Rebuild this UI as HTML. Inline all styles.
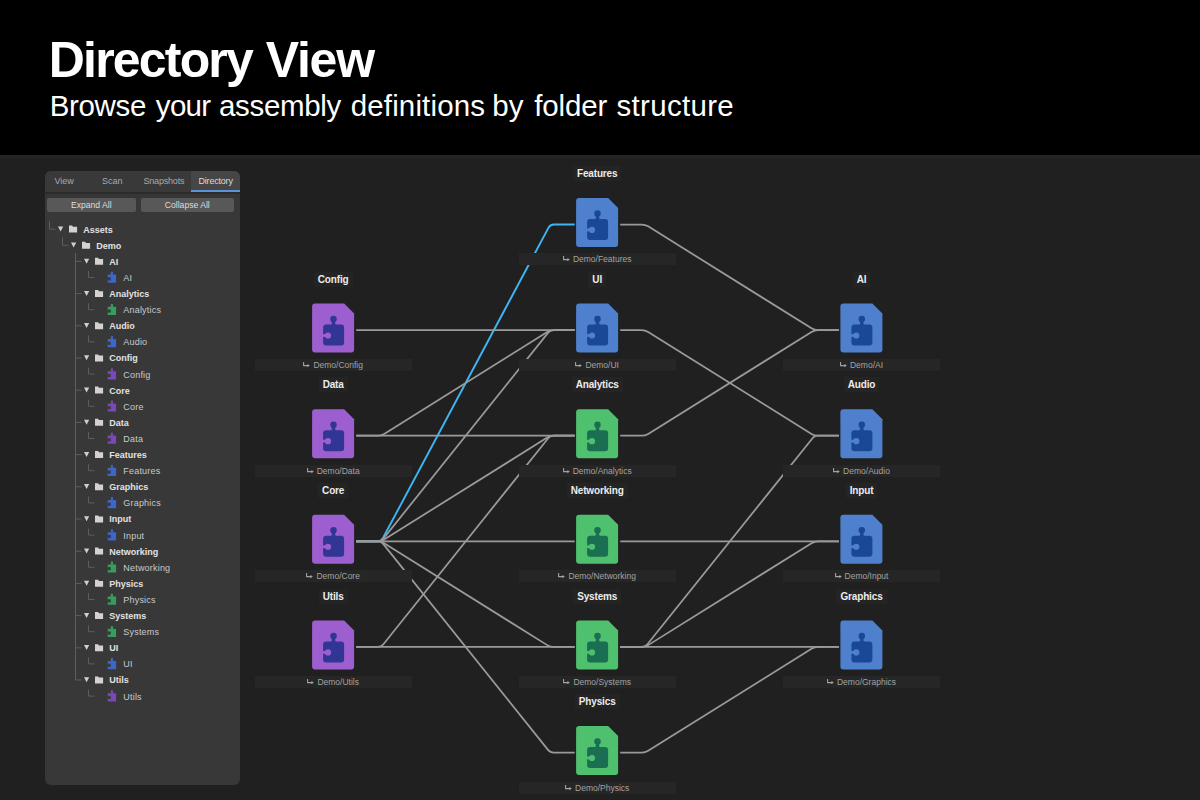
<!DOCTYPE html>
<html><head><meta charset="utf-8"><style>
*{margin:0;padding:0;box-sizing:border-box}
html,body{width:1200px;height:800px;overflow:hidden;background:#202020;font-family:"Liberation Sans", sans-serif}
.abs{position:absolute}
#hdr{position:absolute;left:0;top:0;width:1200px;height:155px;background:#000}
#title{position:absolute;left:0;top:35px;font-size:50px;font-weight:700;color:#fff;white-space:nowrap;line-height:1}
#title span,#sub span{position:absolute;top:0}
#sub{position:absolute;left:0;top:91px;font-size:29.5px;color:#fff;white-space:nowrap;line-height:1}
#panel{position:absolute;left:45px;top:171px;width:195.2px;height:613.5px;background:#383838;border-radius:6px;overflow:hidden}
.tab{position:absolute;top:0;height:21px;font-size:9px;color:#a9a9a9;line-height:21px;white-space:nowrap}
.btn{position:absolute;top:27px;height:13.5px;background:#585858;border-radius:2px;color:#dedede;font-size:8.6px;line-height:15.6px;text-align:center}
.tl{position:absolute;font-size:9px;white-space:nowrap;line-height:1}
.ttl{position:absolute;font-size:10px;font-weight:700;color:#ececec;white-space:nowrap;line-height:1}
.pth{position:absolute;font-size:8.5px;color:#a3a3a3;white-space:nowrap;line-height:12px;height:12px;background:#262626;text-align:center}
</style></head><body>
<div id="hdr"></div>
<div class="abs" style="left:0;top:155px;width:1200px;height:5px;background:linear-gradient(#272727,#202020)"></div>
<div id="title"><span style="left:48.75px;letter-spacing:-1.806px">Directory</span><span style="left:265.8px;letter-spacing:-1.267px">View</span></div>
<div id="sub"><span style="left:49.7px;letter-spacing:-0.34px">Browse</span><span style="left:155.8px;letter-spacing:-0.667px">your</span><span style="left:219px;letter-spacing:-0.329px">assembly</span><span style="left:350.7px;letter-spacing:0.15px">definitions</span><span style="left:492.2px;letter-spacing:0.1px">by</span><span style="left:534.2px;letter-spacing:-0.14px">folder</span><span style="left:616.5px;letter-spacing:0.312px">structure</span></div>

<svg class="abs" style="left:0;top:0" width="1200" height="800" viewBox="0 0 1200 800">
<path d="M356.20,541.36 L377.70,541.36 Q381.20,541.36 382.85,538.27 L548.55,227.59 Q550.20,224.50 553.70,224.50 L574.70,224.50" fill="none" stroke="#3cb6f5" stroke-width="1.9" stroke-linejoin="round"/>
<g fill="none" stroke="#9a9a9a" stroke-width="1.75" stroke-linejoin="round">
<path d="M356.20,330.12 L574.70,330.12"/>
<path d="M356.20,435.74 L377.70,435.74 Q381.20,435.74 384.17,433.89 L547.23,331.97 Q550.20,330.12 553.70,330.12 L574.70,330.12"/>
<path d="M356.20,435.74 L574.70,435.74"/>
<path d="M356.20,541.36 L377.70,541.36 Q381.20,541.36 383.39,538.63 L548.01,332.85 Q550.20,330.12 553.70,330.12 L574.70,330.12"/>
<path d="M356.20,541.36 L377.70,541.36 Q381.20,541.36 384.17,539.51 L547.23,437.59 Q550.20,435.74 553.70,435.74 L574.70,435.74"/>
<path d="M356.20,541.36 L574.70,541.36"/>
<path d="M356.20,541.36 L377.70,541.36 Q381.20,541.36 384.17,543.21 L547.23,645.13 Q550.20,646.98 553.70,646.98 L574.70,646.98"/>
<path d="M356.20,541.36 L377.70,541.36 Q381.20,541.36 383.39,544.09 L548.01,749.87 Q550.20,752.60 553.70,752.60 L574.70,752.60"/>
<path d="M356.20,646.98 L377.70,646.98 Q381.20,646.98 383.39,644.25 L548.01,438.47 Q550.20,435.74 553.70,435.74 L574.70,435.74"/>
<path d="M356.20,646.98 L574.70,646.98"/>
<path d="M620.20,224.50 L641.70,224.50 Q645.20,224.50 648.17,226.35 L811.53,328.27 Q814.50,330.12 818.00,330.12 L839.00,330.12"/>
<path d="M620.20,330.12 L641.70,330.12 Q645.20,330.12 648.17,331.97 L811.53,433.89 Q814.50,435.74 818.00,435.74 L839.00,435.74"/>
<path d="M620.20,435.74 L641.70,435.74 Q645.20,435.74 648.17,433.89 L811.53,331.97 Q814.50,330.12 818.00,330.12 L839.00,330.12"/>
<path d="M620.20,541.36 L839.00,541.36"/>
<path d="M620.20,646.98 L641.70,646.98 Q645.20,646.98 647.39,644.25 L812.31,438.47 Q814.50,435.74 818.00,435.74 L839.00,435.74"/>
<path d="M620.20,646.98 L641.70,646.98 Q645.20,646.98 648.17,645.13 L811.53,543.21 Q814.50,541.36 818.00,541.36 L839.00,541.36"/>
<path d="M620.20,646.98 L839.00,646.98"/>
<path d="M620.20,752.60 L641.70,752.60 Q645.20,752.60 648.17,750.75 L811.53,648.83 Q814.50,646.98 818.00,646.98 L839.00,646.98"/>
</g>
</svg>
<div class="pth" style="left:518.7px;top:253.4px;width:157px"><svg width="7" height="6" viewBox="0 0 7 6" style="display:inline-block;vertical-align:0px;margin-right:3px"><path d="M0.6,0 V3.6 H5.2" fill="none" stroke="#a3a3a3" stroke-width="1.1"/><path d="M4.4,1.9 L6.8,3.6 L4.4,5.3 Z" fill="#a3a3a3"/></svg>Demo/Features</div>
<div class="ttl" style="left:537.2px;width:120px;text-align:center;top:169.2px"><span style="background:#242424;padding:2px 4px;letter-spacing:-0.15px">Features</span></div>
<div class="pth" style="left:518.7px;top:359.0px;width:157px"><svg width="7" height="6" viewBox="0 0 7 6" style="display:inline-block;vertical-align:0px;margin-right:3px"><path d="M0.6,0 V3.6 H5.2" fill="none" stroke="#a3a3a3" stroke-width="1.1"/><path d="M4.4,1.9 L6.8,3.6 L4.4,5.3 Z" fill="#a3a3a3"/></svg>Demo/UI</div>
<div class="ttl" style="left:537.2px;width:120px;text-align:center;top:274.8px"><span style="background:#242424;padding:2px 4px;letter-spacing:-0.15px">UI</span></div>
<div class="pth" style="left:518.7px;top:464.6px;width:157px"><svg width="7" height="6" viewBox="0 0 7 6" style="display:inline-block;vertical-align:0px;margin-right:3px"><path d="M0.6,0 V3.6 H5.2" fill="none" stroke="#a3a3a3" stroke-width="1.1"/><path d="M4.4,1.9 L6.8,3.6 L4.4,5.3 Z" fill="#a3a3a3"/></svg>Demo/Analytics</div>
<div class="ttl" style="left:537.2px;width:120px;text-align:center;top:380.4px"><span style="background:#242424;padding:2px 4px;letter-spacing:-0.15px">Analytics</span></div>
<div class="pth" style="left:518.7px;top:570.3px;width:157px"><svg width="7" height="6" viewBox="0 0 7 6" style="display:inline-block;vertical-align:0px;margin-right:3px"><path d="M0.6,0 V3.6 H5.2" fill="none" stroke="#a3a3a3" stroke-width="1.1"/><path d="M4.4,1.9 L6.8,3.6 L4.4,5.3 Z" fill="#a3a3a3"/></svg>Demo/Networking</div>
<div class="ttl" style="left:537.2px;width:120px;text-align:center;top:486.1px"><span style="background:#242424;padding:2px 4px;letter-spacing:-0.15px">Networking</span></div>
<div class="pth" style="left:518.7px;top:675.9px;width:157px"><svg width="7" height="6" viewBox="0 0 7 6" style="display:inline-block;vertical-align:0px;margin-right:3px"><path d="M0.6,0 V3.6 H5.2" fill="none" stroke="#a3a3a3" stroke-width="1.1"/><path d="M4.4,1.9 L6.8,3.6 L4.4,5.3 Z" fill="#a3a3a3"/></svg>Demo/Systems</div>
<div class="ttl" style="left:537.2px;width:120px;text-align:center;top:591.7px"><span style="background:#242424;padding:2px 4px;letter-spacing:-0.15px">Systems</span></div>
<div class="pth" style="left:518.7px;top:781.5px;width:157px"><svg width="7" height="6" viewBox="0 0 7 6" style="display:inline-block;vertical-align:0px;margin-right:3px"><path d="M0.6,0 V3.6 H5.2" fill="none" stroke="#a3a3a3" stroke-width="1.1"/><path d="M4.4,1.9 L6.8,3.6 L4.4,5.3 Z" fill="#a3a3a3"/></svg>Demo/Physics</div>
<div class="ttl" style="left:537.2px;width:120px;text-align:center;top:697.3px"><span style="background:#242424;padding:2px 4px;letter-spacing:-0.15px">Physics</span></div>
<div class="pth" style="left:254.7px;top:359.0px;width:157px"><svg width="7" height="6" viewBox="0 0 7 6" style="display:inline-block;vertical-align:0px;margin-right:3px"><path d="M0.6,0 V3.6 H5.2" fill="none" stroke="#a3a3a3" stroke-width="1.1"/><path d="M4.4,1.9 L6.8,3.6 L4.4,5.3 Z" fill="#a3a3a3"/></svg>Demo/Config</div>
<div class="ttl" style="left:273.2px;width:120px;text-align:center;top:274.8px"><span style="background:#242424;padding:2px 4px;letter-spacing:-0.15px">Config</span></div>
<div class="pth" style="left:254.7px;top:464.6px;width:157px"><svg width="7" height="6" viewBox="0 0 7 6" style="display:inline-block;vertical-align:0px;margin-right:3px"><path d="M0.6,0 V3.6 H5.2" fill="none" stroke="#a3a3a3" stroke-width="1.1"/><path d="M4.4,1.9 L6.8,3.6 L4.4,5.3 Z" fill="#a3a3a3"/></svg>Demo/Data</div>
<div class="ttl" style="left:273.2px;width:120px;text-align:center;top:380.4px"><span style="background:#242424;padding:2px 4px;letter-spacing:-0.15px">Data</span></div>
<div class="pth" style="left:254.7px;top:570.3px;width:157px"><svg width="7" height="6" viewBox="0 0 7 6" style="display:inline-block;vertical-align:0px;margin-right:3px"><path d="M0.6,0 V3.6 H5.2" fill="none" stroke="#a3a3a3" stroke-width="1.1"/><path d="M4.4,1.9 L6.8,3.6 L4.4,5.3 Z" fill="#a3a3a3"/></svg>Demo/Core</div>
<div class="ttl" style="left:273.2px;width:120px;text-align:center;top:486.1px"><span style="background:#242424;padding:2px 4px;letter-spacing:-0.15px">Core</span></div>
<div class="pth" style="left:254.7px;top:675.9px;width:157px"><svg width="7" height="6" viewBox="0 0 7 6" style="display:inline-block;vertical-align:0px;margin-right:3px"><path d="M0.6,0 V3.6 H5.2" fill="none" stroke="#a3a3a3" stroke-width="1.1"/><path d="M4.4,1.9 L6.8,3.6 L4.4,5.3 Z" fill="#a3a3a3"/></svg>Demo/Utils</div>
<div class="ttl" style="left:273.2px;width:120px;text-align:center;top:591.7px"><span style="background:#242424;padding:2px 4px;letter-spacing:-0.15px">Utils</span></div>
<div class="pth" style="left:783.0px;top:359.0px;width:157px"><svg width="7" height="6" viewBox="0 0 7 6" style="display:inline-block;vertical-align:0px;margin-right:3px"><path d="M0.6,0 V3.6 H5.2" fill="none" stroke="#a3a3a3" stroke-width="1.1"/><path d="M4.4,1.9 L6.8,3.6 L4.4,5.3 Z" fill="#a3a3a3"/></svg>Demo/AI</div>
<div class="ttl" style="left:801.5px;width:120px;text-align:center;top:274.8px"><span style="background:#242424;padding:2px 4px;letter-spacing:-0.15px">AI</span></div>
<div class="pth" style="left:783.0px;top:464.6px;width:157px"><svg width="7" height="6" viewBox="0 0 7 6" style="display:inline-block;vertical-align:0px;margin-right:3px"><path d="M0.6,0 V3.6 H5.2" fill="none" stroke="#a3a3a3" stroke-width="1.1"/><path d="M4.4,1.9 L6.8,3.6 L4.4,5.3 Z" fill="#a3a3a3"/></svg>Demo/Audio</div>
<div class="ttl" style="left:801.5px;width:120px;text-align:center;top:380.4px"><span style="background:#242424;padding:2px 4px;letter-spacing:-0.15px">Audio</span></div>
<div class="pth" style="left:783.0px;top:570.3px;width:157px"><svg width="7" height="6" viewBox="0 0 7 6" style="display:inline-block;vertical-align:0px;margin-right:3px"><path d="M0.6,0 V3.6 H5.2" fill="none" stroke="#a3a3a3" stroke-width="1.1"/><path d="M4.4,1.9 L6.8,3.6 L4.4,5.3 Z" fill="#a3a3a3"/></svg>Demo/Input</div>
<div class="ttl" style="left:801.5px;width:120px;text-align:center;top:486.1px"><span style="background:#242424;padding:2px 4px;letter-spacing:-0.15px">Input</span></div>
<div class="pth" style="left:783.0px;top:675.9px;width:157px"><svg width="7" height="6" viewBox="0 0 7 6" style="display:inline-block;vertical-align:0px;margin-right:3px"><path d="M0.6,0 V3.6 H5.2" fill="none" stroke="#a3a3a3" stroke-width="1.1"/><path d="M4.4,1.9 L6.8,3.6 L4.4,5.3 Z" fill="#a3a3a3"/></svg>Demo/Graphics</div>
<div class="ttl" style="left:801.5px;width:120px;text-align:center;top:591.7px"><span style="background:#242424;padding:2px 4px;letter-spacing:-0.15px">Graphics</span></div>
<svg class="abs" style="left:0;top:0" width="1200" height="800" viewBox="0 0 1200 800">
<g transform="translate(576.10,198.00)"><path d="M3,0 H32 L42,10 V46 Q42,49 39,49 H3 Q0,49 0,46 V3 Q0,0 3,0 Z" fill="#4f80cd"/><rect x="11" y="21" width="21" height="21" rx="3" fill="#1a4897"/><circle cx="21.4" cy="15.5" r="3.25" fill="#1a4897"/><path d="M19.7,17 h3.4 v3 l0.6,1.5 h-4.6 l0.6,-1.5 z" fill="#1a4897"/><circle cx="15.9" cy="31.9" r="3.1" fill="#4f80cd"/><rect x="10" y="30.5" width="6" height="2.8" fill="#4f80cd"/></g>
<g transform="translate(576.10,303.62)"><path d="M3,0 H32 L42,10 V46 Q42,49 39,49 H3 Q0,49 0,46 V3 Q0,0 3,0 Z" fill="#4f80cd"/><rect x="11" y="21" width="21" height="21" rx="3" fill="#1a4897"/><circle cx="21.4" cy="15.5" r="3.25" fill="#1a4897"/><path d="M19.7,17 h3.4 v3 l0.6,1.5 h-4.6 l0.6,-1.5 z" fill="#1a4897"/><circle cx="15.9" cy="31.9" r="3.1" fill="#4f80cd"/><rect x="10" y="30.5" width="6" height="2.8" fill="#4f80cd"/></g>
<g transform="translate(576.10,409.24)"><path d="M3,0 H32 L42,10 V46 Q42,49 39,49 H3 Q0,49 0,46 V3 Q0,0 3,0 Z" fill="#4fc06e"/><rect x="11" y="21" width="21" height="21" rx="3" fill="#1a6e52"/><circle cx="21.4" cy="15.5" r="3.25" fill="#1a6e52"/><path d="M19.7,17 h3.4 v3 l0.6,1.5 h-4.6 l0.6,-1.5 z" fill="#1a6e52"/><circle cx="15.9" cy="31.9" r="3.1" fill="#4fc06e"/><rect x="10" y="30.5" width="6" height="2.8" fill="#4fc06e"/></g>
<g transform="translate(576.10,514.86)"><path d="M3,0 H32 L42,10 V46 Q42,49 39,49 H3 Q0,49 0,46 V3 Q0,0 3,0 Z" fill="#4fc06e"/><rect x="11" y="21" width="21" height="21" rx="3" fill="#1a6e52"/><circle cx="21.4" cy="15.5" r="3.25" fill="#1a6e52"/><path d="M19.7,17 h3.4 v3 l0.6,1.5 h-4.6 l0.6,-1.5 z" fill="#1a6e52"/><circle cx="15.9" cy="31.9" r="3.1" fill="#4fc06e"/><rect x="10" y="30.5" width="6" height="2.8" fill="#4fc06e"/></g>
<g transform="translate(576.10,620.48)"><path d="M3,0 H32 L42,10 V46 Q42,49 39,49 H3 Q0,49 0,46 V3 Q0,0 3,0 Z" fill="#4fc06e"/><rect x="11" y="21" width="21" height="21" rx="3" fill="#1a6e52"/><circle cx="21.4" cy="15.5" r="3.25" fill="#1a6e52"/><path d="M19.7,17 h3.4 v3 l0.6,1.5 h-4.6 l0.6,-1.5 z" fill="#1a6e52"/><circle cx="15.9" cy="31.9" r="3.1" fill="#4fc06e"/><rect x="10" y="30.5" width="6" height="2.8" fill="#4fc06e"/></g>
<g transform="translate(576.10,726.10)"><path d="M3,0 H32 L42,10 V46 Q42,49 39,49 H3 Q0,49 0,46 V3 Q0,0 3,0 Z" fill="#4fc06e"/><rect x="11" y="21" width="21" height="21" rx="3" fill="#1a6e52"/><circle cx="21.4" cy="15.5" r="3.25" fill="#1a6e52"/><path d="M19.7,17 h3.4 v3 l0.6,1.5 h-4.6 l0.6,-1.5 z" fill="#1a6e52"/><circle cx="15.9" cy="31.9" r="3.1" fill="#4fc06e"/><rect x="10" y="30.5" width="6" height="2.8" fill="#4fc06e"/></g>
<g transform="translate(312.10,303.62)"><path d="M3,0 H32 L42,10 V46 Q42,49 39,49 H3 Q0,49 0,46 V3 Q0,0 3,0 Z" fill="#9d5fcf"/><rect x="11" y="21" width="21" height="21" rx="3" fill="#313593"/><circle cx="21.4" cy="15.5" r="3.25" fill="#313593"/><path d="M19.7,17 h3.4 v3 l0.6,1.5 h-4.6 l0.6,-1.5 z" fill="#313593"/><circle cx="15.9" cy="31.9" r="3.1" fill="#9d5fcf"/><rect x="10" y="30.5" width="6" height="2.8" fill="#9d5fcf"/></g>
<g transform="translate(312.10,409.24)"><path d="M3,0 H32 L42,10 V46 Q42,49 39,49 H3 Q0,49 0,46 V3 Q0,0 3,0 Z" fill="#9d5fcf"/><rect x="11" y="21" width="21" height="21" rx="3" fill="#313593"/><circle cx="21.4" cy="15.5" r="3.25" fill="#313593"/><path d="M19.7,17 h3.4 v3 l0.6,1.5 h-4.6 l0.6,-1.5 z" fill="#313593"/><circle cx="15.9" cy="31.9" r="3.1" fill="#9d5fcf"/><rect x="10" y="30.5" width="6" height="2.8" fill="#9d5fcf"/></g>
<g transform="translate(312.10,514.86)"><path d="M3,0 H32 L42,10 V46 Q42,49 39,49 H3 Q0,49 0,46 V3 Q0,0 3,0 Z" fill="#9d5fcf"/><rect x="11" y="21" width="21" height="21" rx="3" fill="#313593"/><circle cx="21.4" cy="15.5" r="3.25" fill="#313593"/><path d="M19.7,17 h3.4 v3 l0.6,1.5 h-4.6 l0.6,-1.5 z" fill="#313593"/><circle cx="15.9" cy="31.9" r="3.1" fill="#9d5fcf"/><rect x="10" y="30.5" width="6" height="2.8" fill="#9d5fcf"/></g>
<g transform="translate(312.10,620.48)"><path d="M3,0 H32 L42,10 V46 Q42,49 39,49 H3 Q0,49 0,46 V3 Q0,0 3,0 Z" fill="#9d5fcf"/><rect x="11" y="21" width="21" height="21" rx="3" fill="#313593"/><circle cx="21.4" cy="15.5" r="3.25" fill="#313593"/><path d="M19.7,17 h3.4 v3 l0.6,1.5 h-4.6 l0.6,-1.5 z" fill="#313593"/><circle cx="15.9" cy="31.9" r="3.1" fill="#9d5fcf"/><rect x="10" y="30.5" width="6" height="2.8" fill="#9d5fcf"/></g>
<g transform="translate(840.40,303.62)"><path d="M3,0 H32 L42,10 V46 Q42,49 39,49 H3 Q0,49 0,46 V3 Q0,0 3,0 Z" fill="#4f80cd"/><rect x="11" y="21" width="21" height="21" rx="3" fill="#1a4897"/><circle cx="21.4" cy="15.5" r="3.25" fill="#1a4897"/><path d="M19.7,17 h3.4 v3 l0.6,1.5 h-4.6 l0.6,-1.5 z" fill="#1a4897"/><circle cx="15.9" cy="31.9" r="3.1" fill="#4f80cd"/><rect x="10" y="30.5" width="6" height="2.8" fill="#4f80cd"/></g>
<g transform="translate(840.40,409.24)"><path d="M3,0 H32 L42,10 V46 Q42,49 39,49 H3 Q0,49 0,46 V3 Q0,0 3,0 Z" fill="#4f80cd"/><rect x="11" y="21" width="21" height="21" rx="3" fill="#1a4897"/><circle cx="21.4" cy="15.5" r="3.25" fill="#1a4897"/><path d="M19.7,17 h3.4 v3 l0.6,1.5 h-4.6 l0.6,-1.5 z" fill="#1a4897"/><circle cx="15.9" cy="31.9" r="3.1" fill="#4f80cd"/><rect x="10" y="30.5" width="6" height="2.8" fill="#4f80cd"/></g>
<g transform="translate(840.40,514.86)"><path d="M3,0 H32 L42,10 V46 Q42,49 39,49 H3 Q0,49 0,46 V3 Q0,0 3,0 Z" fill="#4f80cd"/><rect x="11" y="21" width="21" height="21" rx="3" fill="#1a4897"/><circle cx="21.4" cy="15.5" r="3.25" fill="#1a4897"/><path d="M19.7,17 h3.4 v3 l0.6,1.5 h-4.6 l0.6,-1.5 z" fill="#1a4897"/><circle cx="15.9" cy="31.9" r="3.1" fill="#4f80cd"/><rect x="10" y="30.5" width="6" height="2.8" fill="#4f80cd"/></g>
<g transform="translate(840.40,620.48)"><path d="M3,0 H32 L42,10 V46 Q42,49 39,49 H3 Q0,49 0,46 V3 Q0,0 3,0 Z" fill="#4f80cd"/><rect x="11" y="21" width="21" height="21" rx="3" fill="#1a4897"/><circle cx="21.4" cy="15.5" r="3.25" fill="#1a4897"/><path d="M19.7,17 h3.4 v3 l0.6,1.5 h-4.6 l0.6,-1.5 z" fill="#1a4897"/><circle cx="15.9" cy="31.9" r="3.1" fill="#4f80cd"/><rect x="10" y="30.5" width="6" height="2.8" fill="#4f80cd"/></g>
</svg>
<div id="panel">
<svg class="abs" style="left:0;top:0" width="196" height="613">
<path d="M4.5,50.2 V58.2 H10.5" fill="none" stroke="#5d5d5d" stroke-width="1"/>
<path d="M13.0,55.5 h5.2 l-2.6,5 z" fill="#cfcfcf"/>
<path d="M24.0,54.6 h3.1 l0.9,1.2 h4.1 v5.8 h-8.1 z" fill="#d2d2d2"/>
<path d="M17.5,66.3 V74.3 H23.5" fill="none" stroke="#5d5d5d" stroke-width="1"/>
<path d="M26.0,71.6 h5.2 l-2.6,5 z" fill="#cfcfcf"/>
<path d="M37.0,70.7 h3.1 l0.9,1.2 h4.1 v5.8 h-8.1 z" fill="#d2d2d2"/>
<path d="M30.5,89.9 V90.4 H36.5" fill="none" stroke="#5d5d5d" stroke-width="1"/>
<path d="M39.0,87.7 h5.2 l-2.6,5 z" fill="#cfcfcf"/>
<path d="M50.0,86.8 h3.1 l0.9,1.2 h4.1 v5.8 h-8.1 z" fill="#d2d2d2"/>
<path d="M43.5,100.0 V106.5 H49.5" fill="none" stroke="#5d5d5d" stroke-width="1"/>
<g transform="translate(62.70,106.50)"><rect x="0" y="-2.9" width="8.4" height="8.2" rx="0.6" fill="#3e66c6"/><rect x="3.2" y="-5.8" width="2.1" height="3.2" rx="0.5" fill="#3e66c6"/><rect x="-0.2" y="-0.2" width="3.2" height="3.1" fill="#383838"/></g>
<path d="M30.5,122.1 V122.6 H36.5" fill="none" stroke="#5d5d5d" stroke-width="1"/>
<path d="M39.0,119.9 h5.2 l-2.6,5 z" fill="#cfcfcf"/>
<path d="M50.0,119.0 h3.1 l0.9,1.2 h4.1 v5.8 h-8.1 z" fill="#d2d2d2"/>
<path d="M43.5,132.2 V138.7 H49.5" fill="none" stroke="#5d5d5d" stroke-width="1"/>
<g transform="translate(62.70,138.70)"><rect x="0" y="-2.9" width="8.4" height="8.2" rx="0.6" fill="#3a9c5c"/><rect x="3.2" y="-5.8" width="2.1" height="3.2" rx="0.5" fill="#3a9c5c"/><rect x="-0.2" y="-0.2" width="3.2" height="3.1" fill="#383838"/></g>
<path d="M30.5,154.3 V154.8 H36.5" fill="none" stroke="#5d5d5d" stroke-width="1"/>
<path d="M39.0,152.1 h5.2 l-2.6,5 z" fill="#cfcfcf"/>
<path d="M50.0,151.2 h3.1 l0.9,1.2 h4.1 v5.8 h-8.1 z" fill="#d2d2d2"/>
<path d="M43.5,164.4 V170.9 H49.5" fill="none" stroke="#5d5d5d" stroke-width="1"/>
<g transform="translate(62.70,170.90)"><rect x="0" y="-2.9" width="8.4" height="8.2" rx="0.6" fill="#3e66c6"/><rect x="3.2" y="-5.8" width="2.1" height="3.2" rx="0.5" fill="#3e66c6"/><rect x="-0.2" y="-0.2" width="3.2" height="3.1" fill="#383838"/></g>
<path d="M30.5,186.5 V187.0 H36.5" fill="none" stroke="#5d5d5d" stroke-width="1"/>
<path d="M39.0,184.3 h5.2 l-2.6,5 z" fill="#cfcfcf"/>
<path d="M50.0,183.4 h3.1 l0.9,1.2 h4.1 v5.8 h-8.1 z" fill="#d2d2d2"/>
<path d="M43.5,196.6 V203.1 H49.5" fill="none" stroke="#5d5d5d" stroke-width="1"/>
<g transform="translate(62.70,203.10)"><rect x="0" y="-2.9" width="8.4" height="8.2" rx="0.6" fill="#7a48b8"/><rect x="3.2" y="-5.8" width="2.1" height="3.2" rx="0.5" fill="#7a48b8"/><rect x="-0.2" y="-0.2" width="3.2" height="3.1" fill="#383838"/></g>
<path d="M30.5,218.7 V219.2 H36.5" fill="none" stroke="#5d5d5d" stroke-width="1"/>
<path d="M39.0,216.5 h5.2 l-2.6,5 z" fill="#cfcfcf"/>
<path d="M50.0,215.6 h3.1 l0.9,1.2 h4.1 v5.8 h-8.1 z" fill="#d2d2d2"/>
<path d="M43.5,228.8 V235.3 H49.5" fill="none" stroke="#5d5d5d" stroke-width="1"/>
<g transform="translate(62.70,235.30)"><rect x="0" y="-2.9" width="8.4" height="8.2" rx="0.6" fill="#7a48b8"/><rect x="3.2" y="-5.8" width="2.1" height="3.2" rx="0.5" fill="#7a48b8"/><rect x="-0.2" y="-0.2" width="3.2" height="3.1" fill="#383838"/></g>
<path d="M30.5,250.9 V251.4 H36.5" fill="none" stroke="#5d5d5d" stroke-width="1"/>
<path d="M39.0,248.7 h5.2 l-2.6,5 z" fill="#cfcfcf"/>
<path d="M50.0,247.8 h3.1 l0.9,1.2 h4.1 v5.8 h-8.1 z" fill="#d2d2d2"/>
<path d="M43.5,261.0 V267.5 H49.5" fill="none" stroke="#5d5d5d" stroke-width="1"/>
<g transform="translate(62.70,267.50)"><rect x="0" y="-2.9" width="8.4" height="8.2" rx="0.6" fill="#7a48b8"/><rect x="3.2" y="-5.8" width="2.1" height="3.2" rx="0.5" fill="#7a48b8"/><rect x="-0.2" y="-0.2" width="3.2" height="3.1" fill="#383838"/></g>
<path d="M30.5,283.1 V283.6 H36.5" fill="none" stroke="#5d5d5d" stroke-width="1"/>
<path d="M39.0,280.9 h5.2 l-2.6,5 z" fill="#cfcfcf"/>
<path d="M50.0,280.0 h3.1 l0.9,1.2 h4.1 v5.8 h-8.1 z" fill="#d2d2d2"/>
<path d="M43.5,293.2 V299.7 H49.5" fill="none" stroke="#5d5d5d" stroke-width="1"/>
<g transform="translate(62.70,299.70)"><rect x="0" y="-2.9" width="8.4" height="8.2" rx="0.6" fill="#3e66c6"/><rect x="3.2" y="-5.8" width="2.1" height="3.2" rx="0.5" fill="#3e66c6"/><rect x="-0.2" y="-0.2" width="3.2" height="3.1" fill="#383838"/></g>
<path d="M30.5,315.3 V315.8 H36.5" fill="none" stroke="#5d5d5d" stroke-width="1"/>
<path d="M39.0,313.1 h5.2 l-2.6,5 z" fill="#cfcfcf"/>
<path d="M50.0,312.2 h3.1 l0.9,1.2 h4.1 v5.8 h-8.1 z" fill="#d2d2d2"/>
<path d="M43.5,325.4 V331.9 H49.5" fill="none" stroke="#5d5d5d" stroke-width="1"/>
<g transform="translate(62.70,331.90)"><rect x="0" y="-2.9" width="8.4" height="8.2" rx="0.6" fill="#3e66c6"/><rect x="3.2" y="-5.8" width="2.1" height="3.2" rx="0.5" fill="#3e66c6"/><rect x="-0.2" y="-0.2" width="3.2" height="3.1" fill="#383838"/></g>
<path d="M30.5,347.5 V348.0 H36.5" fill="none" stroke="#5d5d5d" stroke-width="1"/>
<path d="M39.0,345.3 h5.2 l-2.6,5 z" fill="#cfcfcf"/>
<path d="M50.0,344.4 h3.1 l0.9,1.2 h4.1 v5.8 h-8.1 z" fill="#d2d2d2"/>
<path d="M43.5,357.6 V364.1 H49.5" fill="none" stroke="#5d5d5d" stroke-width="1"/>
<g transform="translate(62.70,364.10)"><rect x="0" y="-2.9" width="8.4" height="8.2" rx="0.6" fill="#3e66c6"/><rect x="3.2" y="-5.8" width="2.1" height="3.2" rx="0.5" fill="#3e66c6"/><rect x="-0.2" y="-0.2" width="3.2" height="3.1" fill="#383838"/></g>
<path d="M30.5,379.7 V380.2 H36.5" fill="none" stroke="#5d5d5d" stroke-width="1"/>
<path d="M39.0,377.5 h5.2 l-2.6,5 z" fill="#cfcfcf"/>
<path d="M50.0,376.6 h3.1 l0.9,1.2 h4.1 v5.8 h-8.1 z" fill="#d2d2d2"/>
<path d="M43.5,389.8 V396.3 H49.5" fill="none" stroke="#5d5d5d" stroke-width="1"/>
<g transform="translate(62.70,396.30)"><rect x="0" y="-2.9" width="8.4" height="8.2" rx="0.6" fill="#3a9c5c"/><rect x="3.2" y="-5.8" width="2.1" height="3.2" rx="0.5" fill="#3a9c5c"/><rect x="-0.2" y="-0.2" width="3.2" height="3.1" fill="#383838"/></g>
<path d="M30.5,411.9 V412.4 H36.5" fill="none" stroke="#5d5d5d" stroke-width="1"/>
<path d="M39.0,409.7 h5.2 l-2.6,5 z" fill="#cfcfcf"/>
<path d="M50.0,408.8 h3.1 l0.9,1.2 h4.1 v5.8 h-8.1 z" fill="#d2d2d2"/>
<path d="M43.5,422.0 V428.5 H49.5" fill="none" stroke="#5d5d5d" stroke-width="1"/>
<g transform="translate(62.70,428.50)"><rect x="0" y="-2.9" width="8.4" height="8.2" rx="0.6" fill="#3a9c5c"/><rect x="3.2" y="-5.8" width="2.1" height="3.2" rx="0.5" fill="#3a9c5c"/><rect x="-0.2" y="-0.2" width="3.2" height="3.1" fill="#383838"/></g>
<path d="M30.5,444.1 V444.6 H36.5" fill="none" stroke="#5d5d5d" stroke-width="1"/>
<path d="M39.0,441.9 h5.2 l-2.6,5 z" fill="#cfcfcf"/>
<path d="M50.0,441.0 h3.1 l0.9,1.2 h4.1 v5.8 h-8.1 z" fill="#d2d2d2"/>
<path d="M43.5,454.2 V460.7 H49.5" fill="none" stroke="#5d5d5d" stroke-width="1"/>
<g transform="translate(62.70,460.70)"><rect x="0" y="-2.9" width="8.4" height="8.2" rx="0.6" fill="#3a9c5c"/><rect x="3.2" y="-5.8" width="2.1" height="3.2" rx="0.5" fill="#3a9c5c"/><rect x="-0.2" y="-0.2" width="3.2" height="3.1" fill="#383838"/></g>
<path d="M30.5,476.3 V476.8 H36.5" fill="none" stroke="#5d5d5d" stroke-width="1"/>
<path d="M39.0,474.1 h5.2 l-2.6,5 z" fill="#cfcfcf"/>
<path d="M50.0,473.2 h3.1 l0.9,1.2 h4.1 v5.8 h-8.1 z" fill="#d2d2d2"/>
<path d="M43.5,486.4 V492.9 H49.5" fill="none" stroke="#5d5d5d" stroke-width="1"/>
<g transform="translate(62.70,492.90)"><rect x="0" y="-2.9" width="8.4" height="8.2" rx="0.6" fill="#3e66c6"/><rect x="3.2" y="-5.8" width="2.1" height="3.2" rx="0.5" fill="#3e66c6"/><rect x="-0.2" y="-0.2" width="3.2" height="3.1" fill="#383838"/></g>
<path d="M30.5,508.5 V509.0 H36.5" fill="none" stroke="#5d5d5d" stroke-width="1"/>
<path d="M39.0,506.3 h5.2 l-2.6,5 z" fill="#cfcfcf"/>
<path d="M50.0,505.4 h3.1 l0.9,1.2 h4.1 v5.8 h-8.1 z" fill="#d2d2d2"/>
<path d="M43.5,518.6 V525.1 H49.5" fill="none" stroke="#5d5d5d" stroke-width="1"/>
<g transform="translate(62.70,525.10)"><rect x="0" y="-2.9" width="8.4" height="8.2" rx="0.6" fill="#7a48b8"/><rect x="3.2" y="-5.8" width="2.1" height="3.2" rx="0.5" fill="#7a48b8"/><rect x="-0.2" y="-0.2" width="3.2" height="3.1" fill="#383838"/></g>
<path d="M30.5,82.0 V509.0" stroke="#5d5d5d" stroke-width="1"/>
</svg>
<div class="abs" style="left:0;top:0;width:196px;height:21px;background:#393939"></div>
<div class="abs" style="left:146px;top:0;width:50px;height:21px;background:#464646"></div>
<div class="abs" style="left:146px;top:19px;width:50px;height:2px;background:#5b94d6"></div>
<div class="abs" style="left:0;top:21px;width:196px;height:1.5px;background:#2b2b2b"></div>
<div class="abs" style="left:0;top:22.5px;width:196px;height:4.5px;background:#363636"></div>
<div class="tab" style="left:9.5px;color:#a9a9a9">View</div>
<div class="tab" style="left:57px;color:#a9a9a9">Scan</div>
<div class="tab" style="left:98.5px;color:#a9a9a9;letter-spacing:-0.2px">Snapshots</div>
<div class="tab" style="left:153.5px;color:#dcdcdc;letter-spacing:-0.2px">Directory</div>
<div class="btn" style="left:2px;width:88.5px">Expand All</div>
<div class="btn" style="left:95.5px;width:93.5px">Collapse All</div>
<div class="tl" style="left:38.3px;top:54.6px;font-weight:700;color:#e2e2e2">Assets</div>
<div class="tl" style="left:51.3px;top:70.7px;font-weight:700;color:#e2e2e2">Demo</div>
<div class="tl" style="left:64.3px;top:86.8px;font-weight:700;color:#e2e2e2">AI</div>
<div class="tl" style="left:78.3px;top:102.9px;color:#cacaca;letter-spacing:0.2px">AI</div>
<div class="tl" style="left:64.3px;top:119.0px;font-weight:700;color:#e2e2e2">Analytics</div>
<div class="tl" style="left:78.3px;top:135.1px;color:#cacaca;letter-spacing:0.2px">Analytics</div>
<div class="tl" style="left:64.3px;top:151.2px;font-weight:700;color:#e2e2e2">Audio</div>
<div class="tl" style="left:78.3px;top:167.3px;color:#cacaca;letter-spacing:0.2px">Audio</div>
<div class="tl" style="left:64.3px;top:183.4px;font-weight:700;color:#e2e2e2">Config</div>
<div class="tl" style="left:78.3px;top:199.5px;color:#cacaca;letter-spacing:0.2px">Config</div>
<div class="tl" style="left:64.3px;top:215.6px;font-weight:700;color:#e2e2e2">Core</div>
<div class="tl" style="left:78.3px;top:231.7px;color:#cacaca;letter-spacing:0.2px">Core</div>
<div class="tl" style="left:64.3px;top:247.8px;font-weight:700;color:#e2e2e2">Data</div>
<div class="tl" style="left:78.3px;top:263.9px;color:#cacaca;letter-spacing:0.2px">Data</div>
<div class="tl" style="left:64.3px;top:280.0px;font-weight:700;color:#e2e2e2">Features</div>
<div class="tl" style="left:78.3px;top:296.1px;color:#cacaca;letter-spacing:0.2px">Features</div>
<div class="tl" style="left:64.3px;top:312.2px;font-weight:700;color:#e2e2e2">Graphics</div>
<div class="tl" style="left:78.3px;top:328.3px;color:#cacaca;letter-spacing:0.2px">Graphics</div>
<div class="tl" style="left:64.3px;top:344.4px;font-weight:700;color:#e2e2e2">Input</div>
<div class="tl" style="left:78.3px;top:360.5px;color:#cacaca;letter-spacing:0.2px">Input</div>
<div class="tl" style="left:64.3px;top:376.6px;font-weight:700;color:#e2e2e2">Networking</div>
<div class="tl" style="left:78.3px;top:392.7px;color:#cacaca;letter-spacing:0.2px">Networking</div>
<div class="tl" style="left:64.3px;top:408.8px;font-weight:700;color:#e2e2e2">Physics</div>
<div class="tl" style="left:78.3px;top:424.9px;color:#cacaca;letter-spacing:0.2px">Physics</div>
<div class="tl" style="left:64.3px;top:441.0px;font-weight:700;color:#e2e2e2">Systems</div>
<div class="tl" style="left:78.3px;top:457.1px;color:#cacaca;letter-spacing:0.2px">Systems</div>
<div class="tl" style="left:64.3px;top:473.2px;font-weight:700;color:#e2e2e2">UI</div>
<div class="tl" style="left:78.3px;top:489.3px;color:#cacaca;letter-spacing:0.2px">UI</div>
<div class="tl" style="left:64.3px;top:505.4px;font-weight:700;color:#e2e2e2">Utils</div>
<div class="tl" style="left:78.3px;top:521.5px;color:#cacaca;letter-spacing:0.2px">Utils</div>
</div>
</body></html>
